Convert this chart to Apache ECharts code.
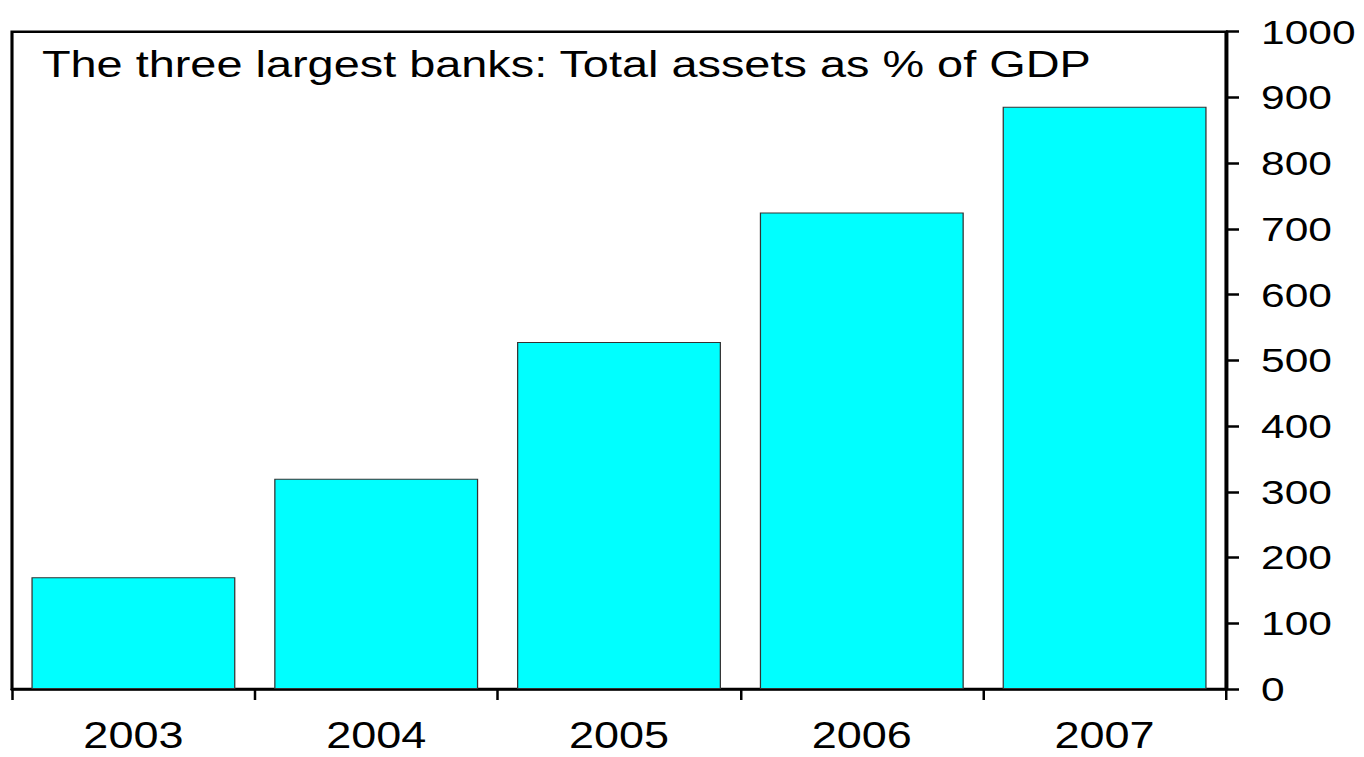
<!DOCTYPE html>
<html>
<head>
<meta charset="utf-8">
<script src="https://cdn.jsdelivr.net/npm/echarts@6/dist/echarts.min.js"></script>
<style>
  html, body { margin: 0; padding: 0; background: #fff; overflow: hidden; }
  /* drawn in a narrower box and widened so the lettering has its broad, stretched look */
  #chart { width: 1091px; height: 757px; transform: scaleX(1.25); transform-origin: 0 0; }
</style>
</head>
<body>
<div id="chart"></div>
<script>
const years = ['2003', '2004', '2005', '2006', '2007'];
const assetsPctGdp = [170, 320, 528, 725, 886];
const titleText = 'The three largest banks: Total assets as % of GDP';

const FONT = '"Liberation Sans", Arial, Helvetica, sans-serif';

const chart = echarts.init(document.getElementById('chart'), null, { renderer: 'svg' });
chart.setOption({
  animation: false,
  backgroundColor: '#ffffff',
  title: {
    text: titleText,
    left: 33.5,
    top: 45,
    padding: 0,
    textStyle: { fontFamily: FONT, fontSize: 37.5, fontWeight: 'normal', color: '#000' }
  },
  grid: {
    show: true,
    left: 9.6,
    right: 110.2,
    top: 31.7,
    bottom: 68,
    outerBoundsMode: 'none',
    containLabel: false,
    borderColor: '#000',
    borderWidth: 2.5,
    backgroundColor: 'transparent'
  },
  xAxis: {
    type: 'category',
    data: years,
    boundaryGap: true,
    axisLine: { show: true, lineStyle: { color: '#000', width: 2.5 } },
    axisTick: { show: true, inside: false, length: 11, lineStyle: { color: '#000', width: 2 } },
    axisLabel: { color: '#000', fontFamily: FONT, fontSize: 36, lineHeight: 20, margin: 37 },
    splitLine: { show: false }
  },
  yAxis: {
    type: 'value',
    position: 'right',
    min: 0,
    max: 1000,
    interval: 100,
    axisLine: { show: true, lineStyle: { color: '#000', width: 2.5 } },
    axisTick: { show: true, inside: false, length: 10.4, lineStyle: { color: '#000', width: 2.5 } },
    axisLabel: {
      color: '#000', fontFamily: FONT, fontSize: 34, margin: 28,
      formatter: (v) => String(v)
    },
    splitLine: { show: false }
  },
  series: [{
    type: 'bar',
    data: assetsPctGdp,
    barWidth: '84%',
    itemStyle: { color: '#00FFFF', borderColor: '#333333', borderWidth: 1 }
  }]
});
</script>
</body>
</html>
